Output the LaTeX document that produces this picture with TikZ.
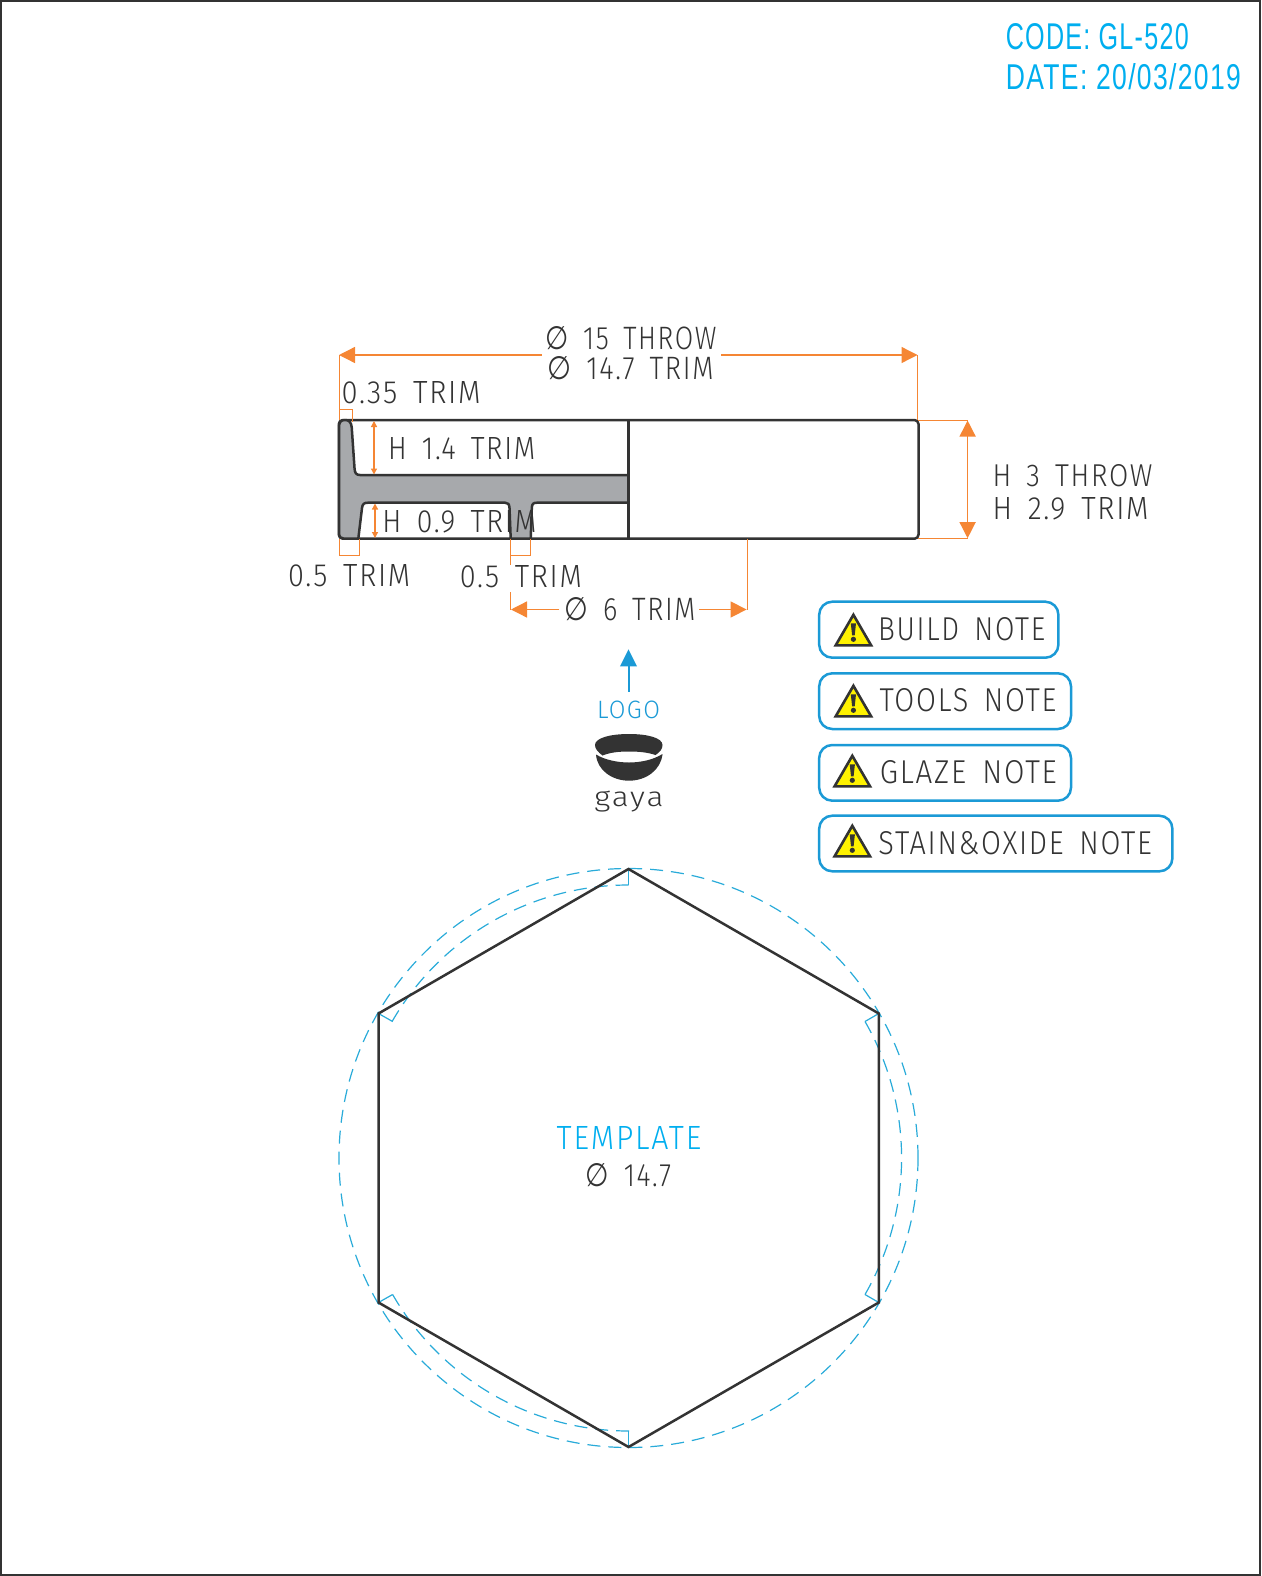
\documentclass[tikz,border=0pt]{standalone}
\usepackage{fontspec}
\setmainfont{Fira Sans}[UprightFont=* Light,LetterSpace=6,WordSpace=1.6]
\newfontfamily\headf{Liberation Sans}[LetterSpace=5]
\newfontfamily\symf{DejaVu Sans}
\usetikzlibrary{arrows.meta}
\definecolor{dimor}{HTML}{F58634}
\definecolor{cyanb}{HTML}{1B9AD6}
\definecolor{cyant}{HTML}{00AEEF}
\definecolor{cyand}{HTML}{29ABD9}
\definecolor{inkk}{HTML}{333333}
\definecolor{graysec}{HTML}{A7A9AC}
\definecolor{warny}{HTML}{FFF200}
% fitted text: width, height (in picture units), content
\newcommand{\fitx}[3]{\resizebox{#1pt}{#2pt}{#3}}
\newcommand{\dia}{{\symf ∅}}
\tikzset{
  x=1pt,y=-1pt,
  txt/.style={inner sep=0pt,outer sep=0pt,text=inkk},
  ctxt/.style={inner sep=0pt,outer sep=0pt,text=cyant},
  thinor/.style={draw=dimor,line width=1pt},
  dimor line/.style={draw=dimor,line width=1.3pt},
  bighead/.style={-{Triangle[length=16pt,width=16pt,fill=dimor]}},
  smallhead/.style={{Triangle[length=6pt,width=6pt,fill=dimor]}-{Triangle[length=6pt,width=6pt,fill=dimor]}},
  sect/.style={draw=inkk,line width=2.5pt,line join=round},
  dashc/.style={draw=cyand,line width=1.2pt,dash pattern=on 13pt off 8pt},
  tickc/.style={draw=cyand,line width=1.2pt},
  notebox/.style={draw=cyanb,line width=2.5pt,rounded corners=13pt,fill=white},
}
\begin{document}
\begin{tikzpicture}
\useasboundingbox (0,0) rectangle (1261,1576);
\draw[inkk,line width=1.8pt] (0.9,0.9) rectangle (1260.1,1575.1);
% header
\node[ctxt] (code) at (1097.3,37) {\fitx{183}{26}{\headf CODE: GL-520}};
\node[ctxt] (date) at (1123.4,77) {\fitx{235}{26}{\headf DATE: 20/03/2019}};
% section
\draw[sect,fill=white,rounded corners=4pt] (338.8,420) rectangle (918.5,538.7);
\draw[sect,fill=graysec]
  (339,427) .. controls (339,422) and (341,420) .. (345,420)
  .. controls (349,420) and (351,422) .. (351.7,427)
  -- (354.5,468) .. controls (354.8,473) and (356,475) .. (360,475)
  -- (628.5,475) -- (628.5,502.7) -- (537,502.7)
  .. controls (533,502.7) and (532,504) .. (531.8,508)
  -- (530.7,538.7) -- (510.7,538.7) -- (509.5,508)
  .. controls (509.3,504) and (508,502.7) .. (505,502.7)
  -- (368,502.7) .. controls (364,502.7) and (362.5,504) .. (362,508)
  -- (358.3,538.7) -- (344,538.7)
  .. controls (341,538.7) and (339,537) .. (339,533) -- cycle;
\draw[sect] (628.5,420) -- (628.5,538.7);
% dimension texts
\node[txt] (t1) at (631,338.5) {\fitx{171}{23}{\dia\ 15 THROW}};
\node[txt] (t2) at (630.5,368.5) {\fitx{166}{23}{\dia\ 14.7 TRIM}};
\node[txt] (t3) at (411.2,392.2) {\fitx{139}{22}{0.35 TRIM}};
\node[txt] (t4) at (461.7,448.7) {\fitx{147}{22}{H 1.4 TRIM}};
\node[txt] (t5) at (459.5,522) {\fitx{154}{22}{H 0.9 TRIM}};
\node[txt] (t6) at (349.2,575.5) {\fitx{122}{22}{0.5 TRIM}};
\node[txt] (t7) at (520.8,576.3) {\fitx{122}{22}{0.5 TRIM}};
\node[txt] (t8) at (630,609) {\fitx{131}{23}{\dia\ 6 TRIM}};
\node[txt] (t9) at (1072.6,475.3) {\fitx{160}{22}{H 3 THROW}};
\node[txt] (t10) at (1070.6,508.4) {\fitx{156}{22}{H 2.9 TRIM}};
% coordinates
\coordinate (tl) at (339,420);
\coordinate (tr) at (917.5,420);
\coordinate (dl) at (339,355);
\coordinate (dr) at (917.5,355);
\coordinate (dil) at (541.7,355);
\coordinate (dir) at (721,355);
% dimension lines
\draw[thinor] (tl) -- (dl);
\draw[thinor] (tr) -- (dr);
\draw[dimor line,bighead] (dil) -- (dl);
\draw[dimor line,bighead] (dir) -- (dr);
\draw[thinor] (339,409.3) -- (352.7,409.3) -- (352.7,422);
\draw[dimor line,smallhead] (374,421) -- (374,474.5);
\draw[dimor line,smallhead] (375,503.5) -- (375,538);
\draw[thinor] (339,538.7) -- (339,555) -- (359.3,555) -- (359.3,538.7);
\draw[thinor] (510.7,555) -- (530.7,555) -- (530.7,538.7);
\draw[thinor] (510.7,538.7) -- (510.7,565);
\draw[thinor] (510.7,592) -- (510.7,609.5);
\draw[thinor] (747,538.7) -- (747,609.5);
\draw[dimor line,bighead] (559.3,609.5) -- (511,609.5);
\draw[dimor line,bighead] (699.4,609.5) -- (746.6,609.5);
\draw[thinor] (918,420) -- (967.6,420);
\draw[thinor] (918,538.7) -- (967.6,538.7);
\draw[dimor line,{Triangle[length=16pt,width=16pt,fill=dimor]}-{Triangle[length=16pt,width=16pt,fill=dimor]}] (967.6,420.5) -- (967.6,538.2);
% logo
\coordinate (lgb) at (628.5,691.7);
\coordinate (lgt) at (628.5,649.3);
\draw[cyanb,line width=2pt,-{Triangle[length=17pt,width=16.5pt,fill=cyanb]}] (lgb) -- (lgt);
\node[ctxt,text=cyanb] (logo) at (628.5,710) {\fitx{63}{17.5}{LOGO}};
\fill[inkk] (595,745) .. controls (595,738) and (610,734) .. (629,734)
  .. controls (648,734) and (662.5,738) .. (662.5,745)
  .. controls (662.5,749) and (660,752) .. (655.5,755)
  .. controls (648,752.5) and (640,751.5) .. (629,751.5)
  .. controls (618,751.5) and (610,752.5) .. (602.5,755.5)
  .. controls (598,752) and (595,749) .. (595,745) -- cycle;
\fill[inkk] (596,754.5) .. controls (605,760) and (618,762.5) .. (629,762.5)
  .. controls (640,762.5) and (653,760) .. (662.5,754)
  .. controls (661,770) and (646,780.7) .. (629,780.7)
  .. controls (612,780.7) and (597,770) .. (596,754.5) -- cycle;
\node[txt] (gaya) at (629,801.5) {\fitx{69}{15.5}{gaya}};
% notes
\draw[notebox] (819.2,601.7) rectangle (1058.4,657.7);
\draw[notebox] (819.2,673.3) rectangle (1071,729);
\draw[notebox] (819.2,745) rectangle (1071,800.7);
\draw[notebox] (819.2,815.7) rectangle (1172.4,871.3);
\node[txt] (n1) at (961.7,628.8) {\fitx{167}{23}{BUILD NOTE}};
\node[txt] (n2) at (968,699.7) {\fitx{177}{23}{TOOLS NOTE}};
\node[txt] (n3) at (968.3,772) {\fitx{177}{23}{GLAZE NOTE}};
\node[txt] (n4) at (1015.2,842.8) {\fitx{273.5}{23}{STAIN\&OXIDE NOTE}};
\foreach \ax/\ay in {853.4/613.3,853.4/684.3,852.3/754.3,852.3/824.3}{
  \begin{scope}[shift={(\ax,\ay)}]
  \draw[fill=warny,draw=inkk,line width=2.6pt,line join=miter] (0,1.5) -- (17.7,32) -- (-17.7,32) -- cycle;
  \fill[inkk] (-2.6,10) -- (2.6,10) -- (1.3,22) -- (-1.3,22) -- cycle;
  \fill[inkk] (0,26) circle[radius=2.6];
  \end{scope}
}
% template
\coordinate (c) at (628.5,1158);
\draw[dashc] (c) circle[radius=289.5];
\draw[dashc] (628.5,885) arc[start angle=-90,end angle=-150,radius=273];
\draw[dashc] (865,1021.5) arc[start angle=-30,end angle=30,radius=273];
\draw[dashc] (392.6,1294.5) arc[start angle=150,end angle=90,radius=273];
\draw[tickc] (628.5,869) -- (628.5,885);
\draw[tickc] (378.5,1013.5) -- (392.6,1021.5);
\draw[tickc] (878.8,1013.5) -- (865,1021.5);
\draw[tickc] (878.8,1302.5) -- (865,1294.5);
\draw[tickc] (378.5,1302.5) -- (392.6,1294.5);
\draw[tickc] (628.5,1447) -- (628.5,1431);
\draw[inkk,line width=2.5pt,line join=miter] (628.5,869) -- (878.8,1013.5) -- (878.8,1302.5) -- (628.5,1447) -- (378.5,1302.5) -- (378.5,1013.5) -- cycle;
\node[ctxt] (tmpl) at (629,1138.4) {\fitx{144.6}{23}{TEMPLATE}};
\node[txt] (t11) at (628.5,1175.6) {\fitx{85.4}{23}{\dia\ 14.7}};
\end{tikzpicture}
\end{document}
